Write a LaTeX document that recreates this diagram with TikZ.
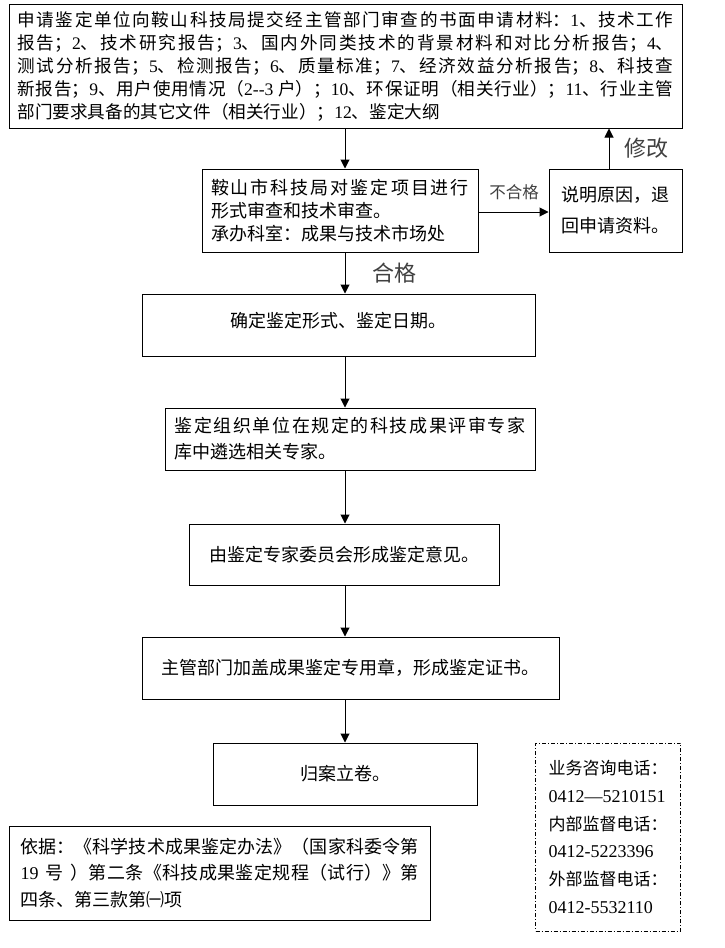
\documentclass[tikz,border=0pt]{standalone}
\usepackage{fontspec}
\setmainfont{Noto Sans CJK SC}
\newfontfamily\tm{Liberation Serif}
\usetikzlibrary{arrows.meta}
\XeTeXlinebreaklocale "zh"
\XeTeXlinebreakskip=0pt plus 10pt minus 0.6pt
\setlength{\parindent}{0pt}
\newcommand\tmb[1]{{\tm\fontsize{18pt}{27.8pt}\selectfont #1}}
\begin{document}
\begin{tikzpicture}[x=1pt,y=-1pt,
  box/.style={draw, line width=1pt, inner sep=0pt, font=\fontsize{18pt}{23pt}\selectfont},
  flow/.style={-{Triangle[length=9pt,width=9pt]}, line width=1pt},
  lbl/.style={text=black!75, inner sep=0pt}]
\useasboundingbox (0,0) rectangle (724,948);

\node[box, minimum width=673pt, minimum height=124pt, text width=656pt, align=justify, font=\fontsize{17.6pt}{23pt}\selectfont] (apply) at (345.5,66) {申请鉴定单位向鞍山科技局提交经主管部门审查的书面申请材料：{\tm 1}、技术工作\linebreak 报告；{\tm 2}、技术研究报告；{\tm 3}、国内外同类技术的背景材料和对比分析报告；{\tm 4}、\linebreak 测试分析报告；{\tm 5}、检测报告；{\tm 6}、质量标准；{\tm 7}、经济效益分析报告；{\tm 8}、科技查\linebreak 新报告；{\tm 9}、用户使用情况（{\tm 2-{}-3 }户）；{\tm 10}、环保证明（相关行业）；{\tm 11}、行业主管\linebreak 部门要求具备的其它文件（相关行业）；{\tm 12}、鉴定大纲};

\node[box, minimum width=276pt, minimum height=83pt, text width=258pt, align=justify] (review) at (340,210.5) {鞍山市科技局对鉴定项目进行\linebreak 形式审查和技术审查。\newline 承办科室：成果与技术市场处};

\node[box, minimum width=133pt, minimum height=83pt, align=left, font=\fontsize{18pt}{31pt}\selectfont] (reject) at (615.5,210.5) {说明原因，退\\回申请资料。};

\node[box, minimum width=393pt, minimum height=62pt, text depth=11pt] (form) at (338.5,325) {确定鉴定形式、鉴定日期。};

\node[box, minimum width=370pt, minimum height=62pt, text width=351pt, align=justify, font=\fontsize{18pt}{26pt}\selectfont] (expert) at (350,439) {鉴定组织单位在规定的科技成果评审专家\linebreak 库中遴选相关专家。};

\node[box, minimum width=310pt, minimum height=61pt] (opinion) at (344,554.5) {由鉴定专家委员会形成鉴定意见。};

\node[box, minimum width=417pt, minimum height=62pt] (seal) at (350.5,668) {主管部门加盖成果鉴定专用章，形成鉴定证书。};

\node[box, minimum width=264pt, minimum height=62pt] (archive) at (345,774) {归案立卷。};

\node[box, minimum width=421pt, minimum height=94pt, text width=398pt, align=justify, font=\fontsize{18pt}{26.5pt}\selectfont] (basis) at (219.5,873) {依据：《科学技术成果鉴定办法》（国家科委令第\linebreak{\tm 19}\hspace{7pt}号\hspace{7pt}）第二条《科技成果鉴定规程（试行）》第\linebreak 四条、第三款第㈠项};

\node[draw, line width=0.8pt, dash pattern=on 4pt off 2pt on 1pt off 2pt, inner sep=0pt, minimum width=145pt, minimum height=188pt, align=left, font=\fontsize{17pt}{27.8pt}\selectfont] (contact) at (608,837) {业务咨询电话：\\\tmb{0412—5210151}\\内部监督电话：\\\tmb{0412-5223396}\\外部监督电话：\\\tmb{0412-5532110}};

\node[lbl, font=\fontsize{16.5pt}{16.5pt}\selectfont] (nopass) at (514,192) {不合格};
\node[lbl, font=\fontsize{22pt}{22pt}\selectfont] (pass) at (394,273) {合格};
\node[lbl, font=\fontsize{22pt}{22pt}\selectfont] (revise) at (646,148) {修改};

\coordinate (ax) at (345,0);
\coordinate (ux) at (609,0);
\coordinate (ry) at (0,212);

\draw[flow] (apply.south -| ax) -- (review.north -| ax);
\draw[flow] (review.south -| ax) -- (form.north -| ax);
\draw[flow] (form.south -| ax) -- (expert.north -| ax);
\draw[flow] (expert.south -| ax) -- (opinion.north -| ax);
\draw[flow] (opinion.south -| ax) -- (seal.north -| ax);
\draw[flow] (seal.south -| ax) -- (archive.north -| ax);
\draw[flow] (review.east |- ry) -- (reject.west |- ry);
\draw[flow] (reject.north -| ux) -- (apply.south -| ux);
\end{tikzpicture}
\end{document}
